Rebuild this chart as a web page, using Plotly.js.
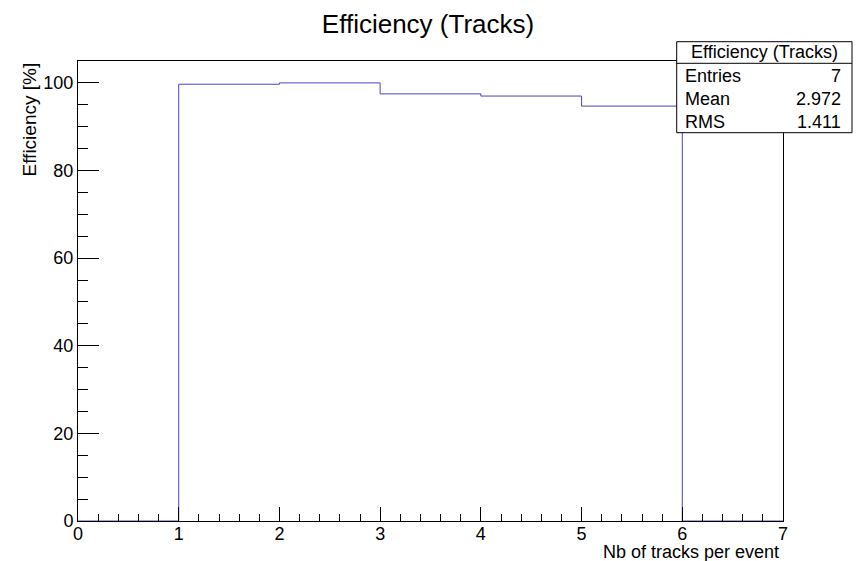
<!DOCTYPE html>
<html>
<head>
<meta charset="utf-8">
<script src="https://cdn.plot.ly/plotly-3.0.1.min.js"></script>
<style>html,body{margin:0;padding:0;background:#fff;}#chart{width:856px;height:561px;}</style>
</head>
<body>
<div id="chart"></div>
<script>
// Data
const binEdges = [0, 1, 2, 3, 4, 5, 6, 7];
const binValues = [0, 99.7, 100.0, 97.5, 97.0, 94.7, 0];
const statLabels = ["Entries", "Mean", "RMS"];
const statValues = ["7", "2.972", "1.411"];
const chartTitle = "Efficiency (Tracks)";
const xTitle = "Nb of tracks per event";
const yTitle = "Efficiency [%]";

const W = 856, H = 561;
const M = {l: 78, r: 73, t: 61, b: 40};
const PW = W - M.l - M.r, PH = H - M.t - M.b;
const px = x => (x - M.l) / PW;
const py = y => (H - M.b - y) / PH;
const FONT = "Liberation Sans, Arial, Helvetica, sans-serif";

// step trace: y at each edge (hold value to the right)
const stepX = binEdges.slice();
const stepY = binValues.concat([binValues[binValues.length - 1]]);

const trace = {
  x: stepX, y: stepY, type: "scatter", mode: "lines",
  line: {shape: "hv", color: "#4646c0", width: 1},
  hoverinfo: "skip", showlegend: false
};

const box = {x0: 676.7, x1: 852, y0: 41.7, y1: 132.7, sep: 63.3};
const rowY = [76, 99, 122];

const shapes = [
  {type: "rect", xref: "paper", yref: "paper", x0: px(box.x0), x1: px(box.x1), y0: py(box.y1), y1: py(box.y0),
   line: {color: "#000", width: 1}, fillcolor: "#fff", layer: "above"},
  {type: "line", xref: "paper", yref: "paper", x0: px(box.x0), x1: px(box.x1), y0: py(box.sep), y1: py(box.sep),
   line: {color: "#000", width: 1}, layer: "above"}
];

const annotations = [
  {xref: "paper", yref: "paper", x: px((box.x0 + box.x1) / 2), y: py(52.5), text: chartTitle,
   showarrow: false, xanchor: "center", yanchor: "middle", font: {family: FONT, size: 18, color: "#000"}},
  {xref: "paper", yref: "paper", x: px(28.5), y: 1, text: yTitle, textangle: -90,
   showarrow: false, xanchor: "center", yanchor: "top", font: {family: FONT, size: 19, color: "#000"}},
  {xref: "paper", yref: "paper", x: px(781), y: py(552), text: xTitle,
   showarrow: false, xanchor: "right", yanchor: "middle", font: {family: FONT, size: 18, color: "#000"}}
];
statLabels.forEach((lab, i) => {
  annotations.push({xref: "paper", yref: "paper", x: px(683), y: py(rowY[i]), text: lab, showarrow: false,
    xanchor: "left", yanchor: "middle", font: {family: FONT, size: 18, color: "#000"}});
  annotations.push({xref: "paper", yref: "paper", x: px(843), y: py(rowY[i]), text: statValues[i], showarrow: false,
    xanchor: "right", yanchor: "middle", font: {family: FONT, size: 18, color: "#000"}});
});

const layout = {
  width: W, height: H,
  margin: M,
  paper_bgcolor: "#fff", plot_bgcolor: "#fff",
  title: {text: chartTitle, font: {family: FONT, size: 26, color: "#000"},
          xref: "container", yref: "container", x: 0.5, y: 1 - 23.5 / H, xanchor: "center", yanchor: "middle"},
  xaxis: {
    range: [0, 7], tickmode: "linear", tick0: 0, dtick: 1,
    ticks: "inside", ticklen: 14, tickwidth: 1, tickcolor: "#000",
    minor: {ticks: "inside", ticklen: 7, tickwidth: 1, tickcolor: "#000", dtick: 0.2, tick0: 0, showgrid: false},
    showline: true, linecolor: "#000", linewidth: 1, mirror: true,
    showgrid: false, zeroline: false, ticklabelstandoff: -4,
    tickfont: {family: FONT, size: 18, color: "#000"}
  },
  yaxis: {
    range: [0, 105], tickmode: "linear", tick0: 0, dtick: 20,
    ticks: "inside", ticklen: 21, tickwidth: 1, tickcolor: "#000",
    minor: {ticks: "inside", ticklen: 10, tickwidth: 1, tickcolor: "#000", dtick: 5, tick0: 0, showgrid: false},
    showline: true, linecolor: "#000", linewidth: 1, mirror: true,
    showgrid: false, zeroline: false,
    tickfont: {family: FONT, size: 18, color: "#000"}
  },
  shapes: shapes,
  annotations: annotations
};

Plotly.newPlot("chart", [trace], layout, {staticPlot: true, displayModeBar: false});
</script>
</body>
</html>
